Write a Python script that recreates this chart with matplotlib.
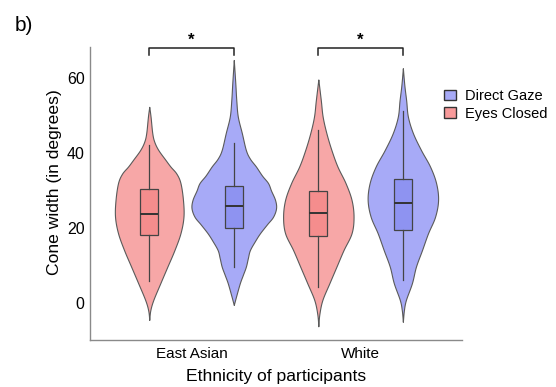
import numpy as np
import matplotlib
matplotlib.use("Agg")
import matplotlib.pyplot as plt
from matplotlib.patches import Patch

plt.rcParams['font.family'] = ['Liberation Sans', 'DejaVu Sans']

groups = ["East Asian", "White"]
conditions = ["Eyes Closed", "Direct Gaze"]

# violin outlines: cone width level -> relative density
ea_ec_y = [-4.5, -2.0, 0.8, 5.3, 9.7, 14.1, 18.6, 23.0, 27.5, 32.0, 34.5, 36.4, 38.2, 40.8, 43.0, 45.3, 49.7, 52.3]
ea_ec_d = [0, 1, 4, 11, 18, 25, 31, 34, 33.5, 31, 27, 21, 16, 9, 5, 3, 1.3, 0]
ea_dg_y = [-0.5, 2.0, 5.3, 7.5, 9.7, 12.0, 14.1, 16.5, 18.6, 21.0, 23.0, 25.3, 27.5, 30.0, 32.0, 34.0, 36.4, 38.5, 40.8, 45.3, 49.7, 54.0, 58.6, 64.8]
ea_dg_d = [0, 2.5, 6, 9, 12, 14, 16, 21, 26, 33, 39, 42, 41, 37, 34, 28, 22, 16, 12, 8, 4, 2.5, 1.5, 0]
w_ec_y = [-6.2, -3.0, 0.8, 5.3, 9.7, 14.1, 18.6, 23.0, 27.5, 32.0, 36.4, 40.8, 45.3, 49.7, 54.0, 59.6]
w_ec_d = [0, 1, 4, 11, 18, 25, 33, 35, 33, 27, 19, 13, 8, 4.3, 2.5, 0]
w_dg_y = [-5.0, -2.0, 0.8, 5.3, 9.7, 14.1, 18.6, 23.0, 27.5, 32.0, 36.4, 40.8, 45.3, 49.7, 54.0, 58.0, 62.6]
w_dg_d = [0, 1, 3, 9, 13, 19, 25, 32, 35, 33, 27, 18, 10, 5, 3.3, 1.5, 0]

# box summaries: whisker low, q1, median, q3, whisker high
ea_ec_box = [6.0, 18.1, 23.7, 30.4, 42.1]
ea_dg_box = [9.6, 20.1, 25.9, 31.2, 42.7]
w_ec_box = [4.4, 18.0, 23.9, 29.9, 46.1]
w_dg_box = [6.1, 19.6, 26.8, 33.1, 51.3]

violins = [
    (0, "Eyes Closed", ea_ec_y, ea_ec_d, ea_ec_box),
    (0, "Direct Gaze", ea_dg_y, ea_dg_d, ea_dg_box),
    (1, "Eyes Closed", w_ec_y, w_ec_d, w_ec_box),
    (1, "Direct Gaze", w_dg_y, w_dg_d, w_dg_box),
]

violin_col = {"Eyes Closed": "#F7A7A7", "Direct Gaze": "#A7AAF7"}
box_col = {"Eyes Closed": "#F58D8D", "Direct Gaze": "#8E93F1"}
edge = "#5a5a5a"
offset = 0.25
max_half = 0.25


def smooth_outline(ys, ds, n=12):
    # catmull-rom through the read points, only to draw a smooth edge
    p = np.column_stack([ys, ds]).astype(float)
    p = np.vstack([p[0], p, p[-1]])
    t = np.linspace(0, 1, n, endpoint=False)[:, None]
    out = []
    for i in range(1, len(p) - 2):
        p0, p1, p2, p3 = p[i - 1], p[i], p[i + 1], p[i + 2]
        out.append(0.5 * ((2 * p1) + (-p0 + p2) * t + (2 * p0 - 5 * p1 + 4 * p2 - p3) * t ** 2
                          + (-p0 + 3 * p1 - 3 * p2 + p3) * t ** 3))
    out.append(p[-2][None, :])
    out = np.vstack(out)
    return out[:, 0], np.clip(out[:, 1], 0, None)


fig = plt.figure(figsize=(5.56, 3.87), dpi=100)
ax = fig.add_axes([0.162, 0.121, 0.669, 0.758])

dmax = max(max(ea_ec_d), max(ea_dg_d), max(w_ec_d), max(w_dg_d))
for g, cond, ys, ds, st in violins:
    x0 = g + (-offset if cond == "Eyes Closed" else offset)
    sy, sd = smooth_outline(ys, ds)
    hw = sd / dmax * max_half
    ax.fill_betweenx(sy, x0 - hw, x0 + hw, facecolor=violin_col[cond],
                     edgecolor=edge, linewidth=0.8, zorder=1)
    stats = [dict(whislo=st[0], q1=st[1], med=st[2], q3=st[3], whishi=st[4])]
    ax.bxp(stats, positions=[x0], widths=0.105, patch_artist=True,
           showfliers=False, showcaps=False, manage_ticks=False,
           boxprops=dict(facecolor=box_col[cond], edgecolor="#444444", linewidth=0.9),
           medianprops=dict(color="#333333", linewidth=1.4),
           whiskerprops=dict(color="#444444", linewidth=0.9), zorder=2)

# significance brackets
for g in range(len(groups)):
    ax.plot([g - offset, g - offset, g + offset, g + offset], [66.1, 68.1, 68.1, 66.1],
            color="#222222", linewidth=1.1, clip_on=False)
    ax.text(g, 70.0, "*", ha="center", va="center", fontsize=12, fontweight="bold", clip_on=False)

ax.set_xlim(-0.6, 1.6)
ax.set_ylim(-9.9, 68.3)
ax.set_xticks(range(len(groups)))
ax.set_xticklabels(groups, fontsize=11)
ax.set_yticks([0, 20, 40, 60])
ax.tick_params(axis="both", length=0)
ax.tick_params(axis="y", labelsize=11.5, pad=4)
ax.tick_params(axis="x", pad=5)
for s in ["top", "right"]:
    ax.spines[s].set_visible(False)
for s in ["left", "bottom"]:
    ax.spines[s].set_color("#8a8a8a")
    ax.spines[s].set_linewidth(1.0)
ax.set_xlabel("Ethnicity of participants", fontsize=12.6, labelpad=6)
ax.set_ylabel("Cone width (in degrees)", fontsize=12.6)
ax.yaxis.set_label_coords(-0.075, 0.54)

handles = [Patch(facecolor=violin_col["Direct Gaze"], edgecolor="#333333", label="Direct Gaze"),
           Patch(facecolor="#F89A9A", edgecolor="#333333", label="Eyes Closed")]
fig.legend(handles=handles, loc="upper left", bbox_to_anchor=(444 / 556, 1 - 89 / 387),
           frameon=False, fontsize=10.5, handlelength=0.85, handleheight=0.75,
           handletextpad=0.6, labelspacing=0.25, borderpad=0, borderaxespad=0)

fig.text(0.027, 0.935, "b)", fontsize=15, ha="left", va="center")

fig.savefig("out.png", dpi=100)
